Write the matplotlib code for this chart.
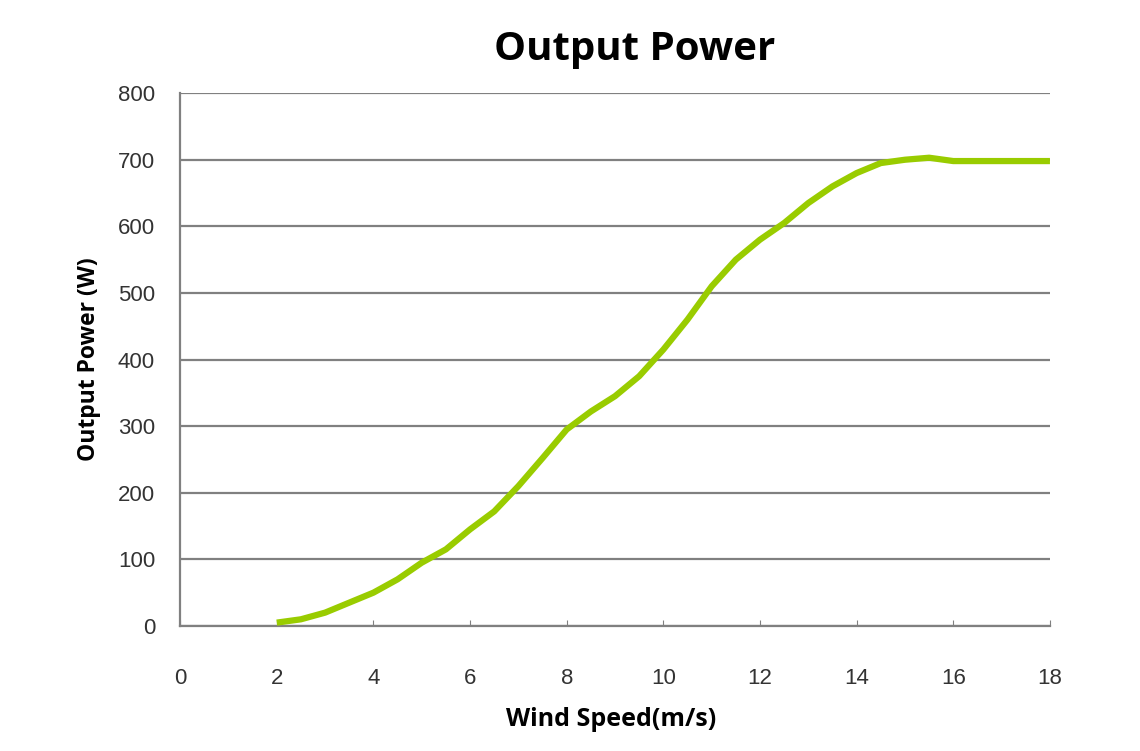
import matplotlib

matplotlib.use("Agg")
import matplotlib.pyplot as plt

# power curve
wind_speed = [2.0, 2.5, 3.0, 3.5, 4.0, 4.5, 5.0, 5.5, 6.0, 6.5, 7.0, 7.5, 8.0, 8.5,
              9.0, 9.5, 10.0, 10.5, 11.0, 11.5, 12.0, 12.5, 13.0, 13.5, 14.0, 14.5,
              15.0, 15.5, 16.0, 17.0, 18.0]
power = [5, 10, 20, 35, 50, 70, 95, 115, 145, 172, 210, 252, 295, 322,
         345, 375, 415, 460, 510, 550, 580, 605, 635, 660, 680, 695,
         700, 703, 698, 698, 698]

x_ticks = list(range(0, 19, 2))
y_ticks = list(range(0, 801, 100))

plt.rcParams["font.family"] = ["Open Sans", "DejaVu Sans"]

fig = plt.figure(figsize=(11.4, 7.51), dpi=100)
ax = fig.add_axes([0.158, 0.1665, 0.763, 0.7095])

ax.plot(wind_speed, power, color="#99cc00", lw=4.5, solid_capstyle="butt", zorder=3)

ax.set_xlim(0, 18)
ax.set_ylim(0, 800)
ax.set_xticks(x_ticks)
ax.set_yticks(y_ticks)
ax.grid(axis="y", color="#808080", lw=1.6)
ax.set_axisbelow(True)
for side in ("top", "right"):
    ax.spines[side].set_visible(False)
for side in ("left", "bottom"):
    ax.spines[side].set_color("#808080")
    ax.spines[side].set_linewidth(1.6)
ax.tick_params(axis="x", direction="in", length=4, color="#808080", pad=30,
               labelsize=16, labelcolor="#333333")
ax.tick_params(axis="y", length=0, pad=18, labelsize=16, labelcolor="#333333")
for lab in ax.get_xticklabels() + ax.get_yticklabels():
    lab.set_family(["Liberation Sans", "DejaVu Sans"])

ax.set_title("Output Power", fontsize=29, fontweight="bold", pad=24, x=0.522)
ax.set_xlabel("Wind Speed(m/s)", fontsize=18, fontweight="bold", labelpad=13, x=0.495)
ax.set_ylabel("Output Power (W)", fontsize=16.5, fontweight="bold", labelpad=12)

fig.savefig("out.png", dpi=100)
